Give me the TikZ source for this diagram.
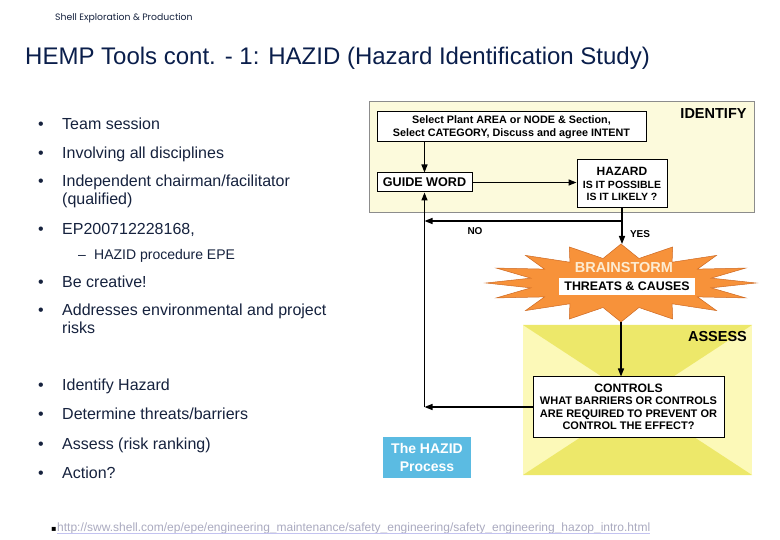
\documentclass[tikz,border=0pt]{standalone}
\usepackage{fontspec}
\setmainfont{Liberation Sans}
\newfontfamily\hdrfont{Poppins}
\newfontfamily\dejavu{DejaVu Sans}
\usetikzlibrary{arrows.meta}
\definecolor{navy}{RGB}{22,34,62}
\definecolor{titleblue}{RGB}{10,30,75}
\definecolor{idfill}{RGB}{252,250,220}
\definecolor{idedge}{RGB}{140,140,140}
\definecolor{burst}{RGB}{247,146,58}
\definecolor{burstedge}{RGB}{205,105,35}
\definecolor{asdark}{RGB}{237,232,106}
\definecolor{aslight}{RGB}{252,249,184}
\definecolor{hazblue}{RGB}{91,187,226}
\definecolor{linkgray}{RGB}{170,170,192}
\definecolor{linkline}{RGB}{195,195,240}
\definecolor{peach}{RGB}{253,236,210}
\newcommand\fsz[2]{\fontsize{#1pt}{#2pt}\selectfont}
\begin{document}
\begin{tikzpicture}[x=1pt,y=-1pt,
  bul/.style={anchor=base west, inner sep=0, text=navy, font=\fsz{16}{19}},
  subb/.style={anchor=base west, inner sep=0, text=navy, font=\fsz{14}{17}},
  dot/.style={anchor=base west, inner sep=0, text=navy, font=\fsz{16}{19}},
  flowbox/.style={draw=black, line width=1pt, fill=white, align=center, inner sep=0, font=\bfseries},
  arr/.style={line width=1.4pt, -{Triangle[length=8pt,width=6pt]}},
  lbl/.style={inner sep=0, font=\bfseries\fsz{10}{12}},
  panellbl/.style={inner sep=0, font=\bfseries\fsz{14.5}{17}}
]
\useasboundingbox (0,0) rectangle (780,540);
\fill[white] (0,0) rectangle (780,540);

% header and title
\node[anchor=base west, inner sep=0, text=navy, font=\hdrfont\fsz{9.3}{11}] (hdr) at (55,21) {Shell Exploration \& Production};
\node[anchor=base west, inner sep=0, text=titleblue, font=\fsz{24}{28}] (title) at (25,65) {HEMP Tools cont. - 1: HAZID (Hazard Identification Study)};

% bullets
\node[dot] (d1) at (38,130) {•};  \node[bul] (t1) at (62,130) {Team session};
\node[dot] (d2) at (38,159) {•};  \node[bul] (t2) at (62,159) {Involving all disciplines};
\node[dot] (d3) at (38,187) {•};  \node[bul] (t3) at (62,187) {Independent chairman/facilitator};
\node[bul] (t3b) at (62,205) {(qualified)};
\node[dot] (d4) at (38,235) {•};  \node[bul] (t4) at (62,235) {EP200712228168,};
\node[subb] (s1d) at (78,260) {–}; \node[subb] (s1) at (94,260) {HAZID procedure EPE};
\node[dot] (d5) at (38,288) {•};  \node[bul] (t5) at (62,288) {Be creative!};
\node[dot] (d6) at (38,316) {•};  \node[bul] (t6) at (62,316) {Addresses environmental and project};
\node[bul] (t6b) at (62,334) {risks};
\node[dot] (d7) at (38,391) {•};  \node[bul] (t7) at (62,391) {Identify Hazard};
\node[dot] (d8) at (38,420) {•};  \node[bul] (t8) at (62,420) {Determine threats/barriers};
\node[dot] (d9) at (38,449) {•};  \node[bul] (t9) at (62,449) {Assess (risk ranking)};
\node[dot] (d10) at (38,478) {•}; \node[bul] (t10) at (62,478) {Action?};

% footer link
\node[anchor=base west, inner sep=0, font=\dejavu\fsz{8}{10}] (fdot) at (51,531) {▪};
\node[anchor=base west, inner sep=0, text=linkgray, font=\fsz{12}{14}] (link) at (57,531) {http://sww.shell.com/ep/epe/engineering\_maintenance/safety\_engineering/safety\_engineering\_hazop\_intro.html};
\draw[linkline, line width=0.8pt] ([yshift=-2pt]link.base west) -- ([yshift=-2pt]link.base east);

% IDENTIFY panel
\node[draw=idedge, line width=0.8pt, fill=idfill, minimum width=385, minimum height=111, inner sep=0] (idpanel) at (561.5,156.5) {};
\node[panellbl] (idlbl) at (713.5,114) {IDENTIFY};

% ASSESS panel
\fill[aslight] (523,325) rectangle (752,475);
\fill[asdark] (523,325) -- (752,325) -- (637.5,400) -- cycle;
\fill[asdark] (523,475) -- (752,475) -- (637.5,400) -- cycle;
\node[panellbl] (aslbl) at (717.5,337) {ASSESS};

% starburst
\coordinate (sbc) at (621,283);
\coordinate (sbtop) at (621,244);
\coordinate (sbbot) at (621,322);
\filldraw[fill=burst, draw=burstedge, line width=0.5pt] ({621+135},283)
  \foreach \i in {1,...,31}{ -- ({621+(92+43*(1-mod(\i,2)))*cos(\i*11.25)},{283-(25+14*(1-mod(\i,2)))*sin(\i*11.25)}) } -- cycle;
\node[inner sep=0, text=peach, font=\bfseries\fsz{14.5}{17}] (brain) at (624,268) {BRAINSTORM};
\node[fill=white, minimum width=136, minimum height=17, inner sep=0, font=\bfseries\fsz{12.4}{14}] (threats) at (627,286.5) {THREATS \& CAUSES};

% flow boxes
\node[flowbox, minimum width=269, minimum height=30, font=\bfseries\fsz{10.8}{13}] (select) at (511.5,127) {Select Plant AREA or NODE \& Section,\\Select CATEGORY, Discuss and agree INTENT};
\node[flowbox, minimum width=95, minimum height=19, font=\bfseries\fsz{12.6}{14}] (guide) at (424.5,182.5) {GUIDE WORD};
\node[flowbox, minimum width=90, minimum height=48, font=\bfseries\fsz{10.5}{12.5}] (hazard) at (622,184) {{\fsz{12}{14}HAZARD}\\IS IT POSSIBLE\\IS IT LIKELY ?};
\node[flowbox, minimum width=191, minimum height=60, font=\bfseries\fsz{11}{12.5}] (controls) at (628.5,407) {{\fsz{12.2}{14}CONTROLS}\\WHAT BARRIERS OR CONTROLS\\ARE REQUIRED TO PREVENT OR\\CONTROL THE EFFECT?};
\node[fill=hazblue, text=white, minimum width=88, minimum height=41, inner sep=0, align=center, font=\bfseries\fsz{14}{18}] (hazid) at (427,457.5) {The HAZID\\Process};

% connectors
\coordinate (noy) at (0,221);
\draw[arr] (guide.north |- select.south) -- (guide.north);
\draw[arr] (guide.east) -- (guide.east -| hazard.west);
\draw[arr] (hazard.south) |- (guide.south |- noy);
\draw[arr] (hazard.south |- noy) -- (hazard.south |- sbtop);
\draw[arr] (sbbot) -- (sbbot |- controls.north);
\draw[arr] (controls.west) -- (controls.west -| guide.south);
\draw[arr] (controls.west -| guide.south) -- (guide.south);
\node[lbl] (nolbl) at (475,231) {NO};
\node[lbl] (yeslbl) at (640,234) {YES};
\end{tikzpicture}
\end{document}
